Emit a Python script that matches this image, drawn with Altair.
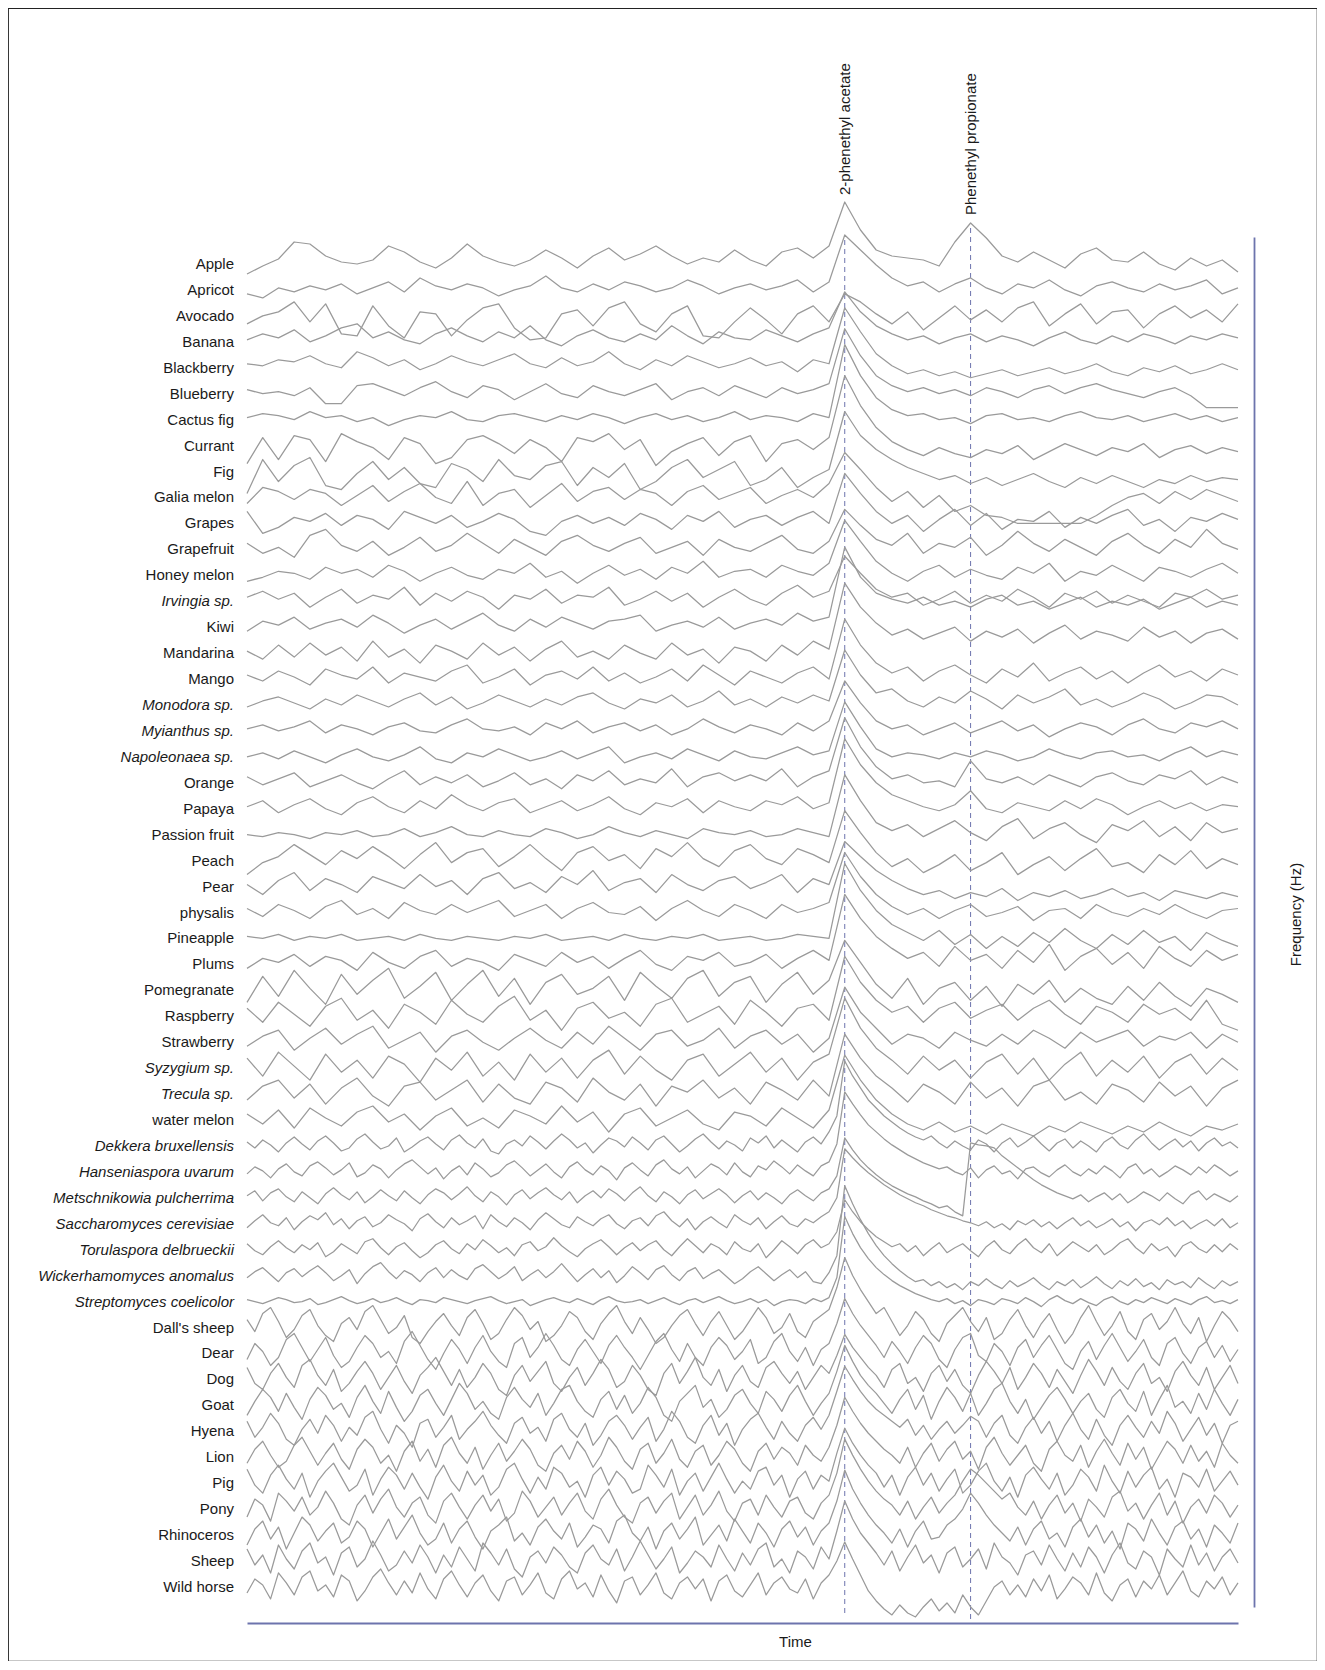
import altair as alt
import pandas as pd

labels = ["Apple", "Apricot", "Avocado", "Banana", "Blackberry", "Blueberry", "Cactus fig",
          "Currant", "Fig", "Galia melon", "Grapes", "Grapefruit", "Honey melon", "Irvingia sp.",
          "Kiwi", "Mandarina", "Mango", "Monodora sp.", "Myianthus sp.", "Napoleonaea sp.",
          "Orange", "Papaya", "Passion fruit", "Peach", "Pear", "physalis", "Pineapple", "Plums",
          "Pomegranate", "Raspberry", "Strawberry", "Syzygium sp.", "Trecula sp.", "water melon",
          "Dekkera bruxellensis", "Hanseniaspora uvarum", "Metschnikowia pulcherrima",
          "Saccharomyces cerevisiae", "Torulaspora delbrueckii", "Wickerhamomyces anomalus",
          "Streptomyces coelicolor", "Dall's sheep", "Dear", "Dog", "Goat", "Hyena", "Lion",
          "Pig", "Pony", "Rhinoceros", "Sheep", "Wild horse"]

italic_labels = ["Irvingia sp.", "Monodora sp.", "Myianthus sp.", "Napoleonaea sp.",
                 "Syzygium sp.", "Trecula sp.", "Dekkera bruxellensis", "Hanseniaspora uvarum",
                 "Metschnikowia pulcherrima", "Saccharomyces cerevisiae", "Torulaspora delbrueckii",
                 "Wickerhamomyces anomalus", "Streptomyces coelicolor"]

# annotated compounds (time in units of the 0..63 time axis)
compounds = ["2-phenethyl acetate", "Phenethyl propionate"]
compound_time = [38, 46]
compound_text_level = [1412, 1392]
compound_line_top = [1367, 1379]
compound_line_bottom = [-6, -12]

# ---- signal traces: offsets from each row's baseline, evenly spaced over the time axis ----
apple = [-10,-2,5,22,20,8,2,0, 4,18,12,2,-4,6,20,8, 2,-2,4,14,6,-4,8,16, 4,10,18,8,0,6,2,14,
         4,-2,12,16,6,18,62,34, 14,8,6,4,-2,22,41,26, 8,2,12,4,-4,10,16,4, 2,12,0,-6,6,-2,4,-8]
apricot = [-4,-8,2,-2,4,0,6,-4, 2,8,-2,12,4,0,6,2, -6,0,4,14,2,-2,6,0, 8,4,-2,2,10,4,-4,2,
           6,0,4,10,-2,8,55,40, 25,12,4,8,-2,6,12,2, -4,6,2,10,0,-6,4,8, 2,-2,6,0,4,10,-4,2]
avocado = [-8,0,4,14,-6,12,-18,-20, 10,-10,-22,4,2,-20,-4,8, 12,-12,-24,-22,2,6,-10,8, 14,-8,-16,2,10,-20,-22,-6,
           8,-4,-18,2,10,-6,22,14, 2,-8,4,-14,-2,10,-4,6, -6,8,14,-10,2,12,-8,4, 6,-12,2,10,-2,6,-6,12]
banana = [2,8,4,12,0,6,14,18, 4,10,2,-2,8,14,6,0, 10,4,16,2,-4,6,12,4, 0,8,2,16,6,-2,10,4,
          2,12,6,0,8,14,50,30, 16,8,2,6,-2,4,8,0, 6,2,-4,4,10,2,-2,6, 0,8,4,-2,6,2,8,4]
blackberry = [4,2,8,6,12,4,0,16, 10,2,8,-2,4,12,6,2, 8,14,4,0,10,2,6,16, 4,-2,8,2,12,6,0,4,
              10,2,6,-4,8,4,60,36, 14,2,-6,-2,-8,-4,-10,-6, -2,-8,-4,0,-6,-2,4,-4, -8,0,-4,2,-6,-2,4,-2]
blueberry = [4,0,2,-2,6,-10,-10,8, 10,4,-2,6,12,2,-4,8, 4,-6,2,10,0,-4,8,2, -2,4,10,-6,2,6,-2,8,
             2,-4,6,0,4,10,65,38, 18,8,2,6,0,4,-2,6, 2,-4,4,8,0,6,10,4, 0,-4,2,6,-2,-14,-14,-14]
cactus_fig = [2,6,4,0,8,2,4,-2, 2,-6,0,4,2,8,0,-2, 4,6,2,-2,4,0,6,2, -4,2,6,0,4,-2,2,8,
              0,4,2,-2,6,2,75,44, 22,10,4,6,0,2,-4,4, 6,0,2,-2,4,8,2,0, 4,-2,2,6,0,4,-2,2]
currant = [-18,8,-14,10,6,-16,12,4, -2,-14,8,2,-18,-12,6,10, 2,-8,6,-2,-16,8,4,12, -4,6,-20,-6,2,8,-10,4,
           10,-16,2,6,-4,8,70,40, 18,4,-4,-10,-2,-8,-12,-4, -8,0,-14,-6,2,-4,-10,-2, -6,2,-12,-4,0,-8,-2,-6]
fig = [-22,12,-10,6,14,-14,-18,-2, 10,-8,4,-12,-16,8,2,-10, 12,-4,-8,6,10,-14,4,-6, 8,-18,-10,4,12,-6,2,10,
       -14,-8,4,-16,-6,2,60,36, 22,12,4,-2,-8,-4,-12,-6, -14,-8,-2,-10,-16,-6,-12,-4, -10,-16,-8,-12,-4,-10,-6,-8]
galia_melon = [-6,10,6,-2,8,4,-8,2, 12,-4,6,14,0,-6,16,-8, 4,8,-10,2,14,-4,6,10, -2,8,4,-8,6,12,-2,4,
               10,-6,2,8,0,14,45,28, 10,-4,6,-10,2,-14,-8,-18, -20,-26,-26,-26,-26,-26,-18,-8, 0,4,-6,6,-2,8,2,-4]
grapes = [12,-10,-4,6,2,10,-2,8, 4,-6,12,6,0,8,-4,2, 10,4,-8,-12,2,8,0,6, -2,10,4,-6,8,2,12,-4,
          4,8,-2,6,12,0,50,30, 12,0,8,-8,4,14,-2,10, -6,4,2,12,-4,6,0,8, 14,-2,4,-8,6,2,10,4]
grapefruit = [6,-4,2,-8,14,20,4,-2, 8,-6,2,12,-2,4,16,6, -4,10,2,-6,8,14,4,-2, 6,12,-4,2,8,-6,10,2,
              -2,6,14,0,-4,8,40,24, 10,4,16,-4,6,2,12,-6, 4,18,6,-2,10,2,-6,8, 16,4,-4,10,2,20,6,0]
honey_melon = [-6,-2,4,2,-4,8,2,6, -2,10,4,-6,2,8,0,-4, 6,2,12,-2,4,-8,2,10, 0,6,-4,8,2,14,-2,4,
               6,-2,10,4,0,12,55,34, 14,2,-6,4,10,-2,6,0, -4,8,2,12,-6,4,0,10, 2,-6,8,4,-2,6,12,2]
irvingia = [4,10,2,8,-6,4,12,-2, 6,2,14,-4,8,0,10,4, -8,6,2,12,-2,6,4,14, -4,2,10,0,8,-6,4,12,
            2,-4,8,16,4,10,45,28, 12,4,8,-4,2,10,-2,6, 0,12,4,-6,8,2,10,-2, 6,0,-6,8,4,12,2,6]
kiwi = [-4,6,2,10,-2,4,8,0, 12,4,-6,2,8,-2,6,14, 2,-4,8,0,10,4,-2,6, 8,12,-4,2,6,0,10,-2,
        4,8,2,14,6,10,80,50, 34,28,24,30,22,26,20,28, 32,22,26,18,24,30,20,26, 22,28,18,24,30,20,26,22]
mandarina = [2,-6,8,-4,10,-2,6,-8, 12,-4,4,-10,8,2,-6,10, -2,6,-8,4,12,-4,2,-6, 8,0,-6,10,-2,4,-10,6,
             2,-8,8,-2,12,4,70,46, 30,18,24,14,20,26,12,22, 16,24,10,20,28,14,22,18, 12,26,16,22,10,20,24,14]
mango = [4,-2,8,2,-6,10,4,0, 12,-4,6,2,-2,8,14,-4, 2,10,-6,4,8,0,12,-2, 6,-4,2,10,-2,14,4,-6,
         8,2,-4,6,12,0,60,34, 16,6,12,-2,8,14,4,-4, 10,2,16,-2,6,12,0,8, -4,6,14,2,8,-2,10,4]
monodora = [-2,4,8,2,-4,6,0,10, 4,-2,6,12,0,8,-4,2, 10,4,-2,6,0,8,12,2, -4,6,2,10,-2,4,14,0,
            6,-2,8,2,10,4,55,30, 12,16,4,-2,8,2,14,6, -4,10,2,8,16,0,6,-2, 4,12,6,-4,2,10,8,0]
myianthus = [2,6,0,4,10,-2,6,2, -4,4,8,0,-2,6,12,2, 0,4,-4,8,2,10,-2,4, 8,0,6,-4,2,12,4,-2,
             6,2,-4,8,0,10,50,28, 10,2,6,-4,2,8,-2,4, 10,0,6,-6,2,8,4,-4, 6,12,2,-2,8,4,10,2]
napoleonaea = [0,4,-2,6,0,-6,2,8, 0,-4,2,10,-2,-6,4,0, 8,2,-4,0,6,-2,4,10, -6,0,4,-2,8,2,-4,6,
               0,-2,4,10,2,6,55,30, 8,0,4,2,-2,4,0,6, 2,-4,0,8,2,-2,4,6, 0,2,-4,4,10,0,6,2]
orange = [6,-2,4,10,-4,2,8,0, -6,4,12,-2,6,0,8,-4, 2,10,-2,4,-6,8,2,12, -2,4,0,14,-4,6,10,2,
          8,2,14,-4,6,12,65,36, 16,4,8,0,2,-4,22,4, 0,6,-2,8,2,-4,6,10, 2,-2,8,4,12,-2,6,0]
papaya = [2,8,-4,4,10,0,-6,6, 12,2,-4,8,0,14,4,-2, 6,10,-4,2,8,-2,4,12, 0,-6,6,2,10,-4,8,2,
          -2,8,4,12,0,6,70,44, 26,14,8,2,-2,4,18,0, -4,6,2,-2,8,0,10,4, -6,2,8,0,6,-2,4,2]
passion_fruit = [0,-2,2,0,-4,2,0,4, -2,0,6,-2,2,8,0,-2, 4,0,-2,6,2,-4,0,8, 2,-2,4,0,-4,6,2,0,
                 4,-2,0,6,2,-2,60,34, 12,4,10,-2,6,14,2,-6, 8,16,-4,6,12,0,-8,10, 4,14,-2,8,-6,12,2,6]
peach = [-14,-2,4,16,6,-4,10,2, 14,4,-8,6,18,-2,8,12, -6,4,16,2,-10,8,14,0, 6,-8,12,4,18,2,-6,10,
         16,2,-4,12,6,-2,50,28, 8,-6,2,-12,-4,6,-10,-2, 8,-14,-4,4,-10,2,12,-6, -2,-12,6,-4,10,-8,2,-4]
pear = [2,-8,6,14,-4,8,2,-6, 10,4,-2,12,0,6,-8,8, 14,-2,4,-6,10,2,16,-4, 4,8,-6,12,2,-4,6,10,
        -2,4,12,-6,8,2,45,30, 16,6,-2,-8,-4,-12,-6,-10, -2,-14,-6,-10,-4,-12,-8,-2, -10,-6,-14,-4,-8,-12,-6,-10]
physalis = [4,-4,8,2,-6,6,12,-2, 4,-6,10,2,-2,8,0,6, 12,-4,2,8,-6,4,10,0, -2,6,-8,4,12,2,-4,8,
            2,-6,8,0,4,10,60,36, 18,6,-2,4,-6,2,8,-4, 0,6,-8,2,4,-6,8,0, -4,4,-2,8,0,-6,2,4]
pineapple = [2,0,4,-2,2,0,4,-2, 0,2,-2,4,0,-2,2,0, -2,2,0,4,-2,0,2,-2, 4,0,-2,2,0,4,-2,0,
             2,-2,0,4,2,0,75,48, 28,14,6,-2,8,-6,4,-10, 2,-8,6,-4,10,-2,-10,4, -6,8,-4,2,-12,6,-2,-8]
plums = [-4,6,2,10,-2,8,4,-6, 12,2,-4,8,14,-2,6,2, -6,10,4,-2,12,2,8,-4, 6,14,0,-6,8,4,12,-2,
         2,10,-4,6,14,4,70,46, 28,16,6,12,-2,18,4,10, -4,14,2,20,-6,8,16,0, 12,-4,18,6,-2,14,4,10]
pomegranate = [-12,14,-6,20,2,-14,16,-4, 10,22,-8,4,18,-10,6,20, -6,12,-14,8,16,-4,2,14, -10,18,4,-8,12,20,-6,8,
               14,-12,6,18,-4,10,50,28, 6,-8,12,-14,2,8,-10,4, -16,6,-4,10,-12,2,-8,-14, 4,-10,8,-6,-16,2,-4,-12]
raspberry = [8,-6,14,2,-10,10,18,-4, 6,-12,12,4,-8,16,2,-6, 10,20,-4,6,-14,8,14,-2, 4,-10,12,18,-6,2,10,-8,
             16,4,-10,8,12,-4,60,34, 16,4,10,-6,8,14,-2,6, 12,-4,8,16,2,-8,10,4, -6,12,2,8,-4,16,-8,-14]
strawberry = [-4,6,12,-8,4,14,-2,8, 16,-6,2,10,-10,6,12,0, -8,4,14,2,-6,10,-2,16, 4,-8,8,12,-4,2,14,-6,
              6,12,-2,8,-10,4,55,30, 14,-2,8,4,-6,10,2,-4, 8,-2,12,4,-6,10,0,6, 12,-4,6,2,10,-6,8,0]
syzygium = [10,-8,16,2,-12,14,-4,8, -10,12,4,-14,10,-2,16,-8, 6,-12,14,-4,10,-10,8,18, -6,12,-2,-12,8,14,-8,4,
            16,-4,10,-12,6,14,70,40, 20,8,-6,12,-2,8,-10,6, 14,-6,10,-12,4,16,-8,8, -4,12,-10,6,14,-6,10,-2]
trecula = [-6,8,14,-4,10,-10,6,16, -2,-12,8,12,-6,4,14,-8, 10,-4,-10,12,6,-8,16,2, -6,10,-12,8,2,14,-4,6,
           -10,12,4,-6,14,-2,60,36, 18,6,-8,10,2,-10,12,-4, 6,-12,8,14,-6,2,-10,10, 4,-8,12,-2,8,-12,6,14]
water_melon = [6,-4,10,-8,12,2,-6,8, 14,-2,6,-10,4,12,-6,2, -8,10,4,-4,14,-2,8,-12, 6,12,-6,2,10,-4,-10,8,
               4,-6,12,2,-8,10,65,40, 20,6,-4,-10,-2,-12,-6,-14, -4,-10,-16,-6,-12,-2,-8,-14, -6,-12,-2,-10,-16,-6,-10,-4]

# yeasts, bacterium and mammals: sampled twice as densely
dekkera = [4,-2,6,1,-6,3,9,2,-4,5, 10,3,-5,-2,7,12,4,-3,0,8, -6,-1,5,9,2,-4,6,11,3,-2,
           7,-5,-8,2,6,0,10,4,-3,5, 12,6,-2,3,-7,1,8,5,-1,9, 3,-4,6,10,2,-6,0,7,12,4,
           -3,5,1,-5,8,3,10,-2,6,0, -6,4,9,2,14,30,85,70,58,46, 38,30,24,18,13,9,6,10,3,-2,
           5,0,-4,6,2,-6,3,8,-1,4, 10,2,-5,3,7,-2,5,0,-6,4, 9,1,-3,6,12,3,-4,2,7,-1, 5,-5,3,8,0,4,-2]
hanseniaspora = [-2,5,1,-6,3,8,0,-4,6,10, 4,-3,2,9,-5,-1,7,3,-6,2, 8,12,5,-2,4,-7,1,6,-3,9,
                 3,-5,-1,7,11,4,-4,2,8,0, -6,5,10,2,-3,6,1,-8,4,9, 2,-4,7,12,3,-2,5,-6,1,8,
                 4,-3,9,0,-5,6,2,11,5,-2, 7,1,-4,6,10,28,80,68,57,47, 40,33,27,22,17,13,9,6,3,5,
                 0,-3,4,-6,2,6,-2,1,-7,3, 5,-1,-5,2,7,0,-4,3,-2,6, 1,-6,4,8,-2,3,-5,0,6,2, -3,5,-1,7,2,-4,1]
metschnikowia = [2,7,-3,5,9,1,-4,6,0,-6, 4,10,3,-2,6,-5,1,8,2,-3, 7,0,-6,3,9,5,-2,4,11,2,
                 -4,6,1,-7,3,8,-1,5,10,3, -2,6,-5,2,7,0,9,4,-3,5, 11,2,-4,6,1,-6,3,8,-1,4,
                 9,3,-5,2,7,-2,5,0,-6,3, 8,2,-3,5,9,22,60,48,38,30, 23,17,12,8,4,1,-3,-6,-10,-8,
                 -14,-18,55,53,52,50,42,36,30,24, 18,13,9,5,2,-1,3,-4,1,5, -2,4,-5,0,6,2,-3,5,-1,-6, 3,7,-2,4,0,-4,2]
saccharomyces = [-4,3,9,1,-2,6,-6,2,8,4, 11,-1,5,-5,3,7,-3,1,9,4, 0,-7,5,10,2,-4,6,-1,3,8,
                 -5,9,2,-3,6,1,-6,4,11,5, -1,-4,7,2,-2,5,9,0,-5,3, 6,-2,8,12,3,-3,5,-6,2,7,
                 1,-4,9,3,-1,6,-5,2,8,0, -3,5,1,7,12,26,75,66,58,51, 45,39,34,29,25,21,18,14,11,8,
                 6,3,1,-2,2,-4,0,-6,3,-1, 4,-3,2,-5,1,6,-2,3,-4,0, 5,-3,2,-7,1,4,-1,6,-2,3, -5,0,4,-2,5,-4,1]
torulaspora = [6,-1,-5,3,9,2,-3,5,0,7, -7,-2,6,1,-4,8,11,2,-5,3, 7,-1,-8,-3,5,9,1,-4,6,0,
               10,4,-3,2,-6,5,8,-1,3,12, 4,-2,-7,1,6,10,3,-5,2,7, -1,5,9,0,-6,3,11,4,-3,6,
               2,-5,8,1,-2,6,-8,0,9,3, -4,5,10,2,6,18,50,38,28,20, 13,8,3,6,-2,4,-6,1,7,-3,
               2,6,-1,-7,3,9,0,-4,5,11, 2,-3,6,-6,1,8,3,-2,5,-5, 0,7,11,2,-4,6,-1,3,-7,4, 8,1,-3,5,-2,6,0]
wickerhamomyces = [-2,4,8,1,-6,3,7,-1,5,10, 3,-5,0,6,-8,2,9,13,4,-3, 5,1,-6,3,8,-2,6,0,-4,7,
                   11,4,-3,2,9,-5,1,6,-2,4, 12,3,-6,1,7,-2,5,-7,0,9, 3,-4,6,10,1,-5,4,8,-3,2,
                   6,-1,-8,-3,4,9,2,-5,1,6, -2,4,-6,-8,3,20,90,72,56,42, 30,20,12,5,-1,-6,-4,-10,-6,-12,
                   -8,-14,-6,-10,-3,-9,-13,-5,-11,-7, -2,-9,-14,-6,-10,-4,-12,-7,-1,-8,
                   -13,-5,-10,-3,-11,-7,-14,-4,-9,-6, -12,-2,-8,-13,-5,-10,-6]
streptomyces = [2,0,-2,1,4,2,-1,0,3,-3, -1,2,5,1,-2,0,3,-1,1,4, 0,-3,2,1,-1,4,2,0,-2,1,
                3,5,1,-2,0,2,-4,-1,2,4, 1,-1,3,0,-3,2,5,1,-1,0, 2,-2,1,4,0,-3,1,3,-1,2,
                5,1,-2,0,3,-1,2,-4,0,2, 1,-2,3,0,4,24,85,68,54,43, 34,27,21,16,12,8,5,2,0,3,
                -2,1,-4,2,0,-3,3,1,-2,4, 0,-5,2,6,1,-2,3,-1,-4,2, 5,0,-3,2,-1,4,1,-2,3,0, -3,2,5,-1,1,-2,2]
dalls_sheep = [8,-4,14,20,6,-10,-2,12,18,2, -8,-14,4,10,-2,16,22,8,-6,0, 12,-10,-16,-4,6,14,2,-8,10,18,
               4,-12,-6,8,20,12,-2,6,-14,-8, 2,16,10,-4,-12,4,14,22,6,-6, 10,-2,-16,-10,2,12,18,4,-8,6,
               16,2,-12,-4,8,20,10,-6,0,14, -4,-10,6,12,18,40,70,52,38,26, 14,20,6,-8,2,16,8,-6,-14,4,
               12,20,6,-4,10,-12,-6,8,18,2, -10,4,14,-2,-16,-6,10,22,6,-8, 2,16,-4,-12,8,14,-2,6,20,4, -6,10,-14,2,16,8,-4]
dear = [-6,10,2,-12,-4,14,20,6,-8,4, 16,-2,-14,-8,6,18,10,-4,2,-10, 12,22,8,-6,-16,0,14,4,-10,6,
        18,2,-8,-14,10,16,-4,6,20,8, -6,-12,4,14,2,-10,8,18,6,-4, -16,-2,12,20,4,-8,10,-4,-12,6,
        16,8,-6,2,14,-10,-4,12,20,2, -8,6,-12,4,10,30,55,40,28,18, 8,-4,12,2,-10,6,18,10,-6,-14,
        4,16,20,-2,-8,10,2,-12,6,14, -4,8,18,4,-10,-16,2,12,-6,8, 20,6,-8,2,14,-4,-12,10,16,0, -10,6,12,-4,8,-8,4]
dog = [12,-4,-10,6,16,2,-8,14,20,4, -6,10,-12,-4,8,18,6,-10,2,14, -2,-14,4,12,22,8,-6,10,-8,2,
       16,6,-10,-16,4,14,-2,8,18,-4, -12,2,12,-6,6,20,10,-8,-2,14, 4,-10,-16,6,16,-4,8,22,2,-6,
       10,-12,4,14,-2,-8,12,18,6,-4, 8,-10,2,14,6,24,45,32,22,12, 4,-8,10,16,-4,2,-12,6,14,-2,
       10,-6,-14,4,18,8,-4,12,-10,2, 16,6,-8,10,-2,-14,4,20,8,-6, 12,-2,-10,6,16,-4,2,-12,8,18, 4,-6,12,-10,2,14,-4]
goat = [-10,4,16,8,-6,12,-2,-14,6,18, 10,-4,2,-12,8,20,4,-8,14,-2, -16,-6,10,16,2,-10,6,22,12,-4,
        4,-8,-14,8,18,6,-2,12,-10,2, 16,20,4,-6,-12,6,14,-4,10,-8, 2,18,8,-10,-16,4,12,20,-2,6,
        -12,-4,10,16,2,-8,14,6,-6,10, 20,4,-10,2,12,34,60,44,30,20, 12,2,-8,6,16,-4,10,-14,4,18,
        8,-6,12,-10,2,16,22,4,-8,6, -14,-2,10,18,6,-8,4,12,-4,-12, 8,16,2,-6,14,-10,6,20,-2,4, -8,12,-4,16,2,-10,6]
hyena = [10,-6,4,18,8,-8,-14,2,12,-2, 16,6,-10,4,-4,14,20,2,-12,6, -2,-16,8,12,-6,4,16,-8,2,10,
         20,6,-4,-12,8,14,-2,4,-10,12, 18,2,-6,8,-14,-4,10,16,6,-8, 4,14,-10,2,20,10,-6,-12,6,16,
         -4,8,-14,2,12,18,4,-8,10,-2, -10,6,14,2,16,40,65,52,40,30, 22,16,10,4,12,-4,6,-8,2,10,
         -2,6,15,10,-6,8,16,-4,-12,4, 14,-2,10,-10,6,18,2,-8,12,-4, -14,6,16,4,-6,10,-2,20,8,-10, 2,14,-4,8,-12,6,10]
lion = [-6,8,16,2,-10,-4,12,20,6,-8, 4,14,-2,-12,8,18,10,-6,2,-14, 6,16,-4,8,-10,12,20,4,-6,10,
        -12,2,14,-4,6,18,8,-8,-14,4, 12,-2,16,6,-10,2,20,10,-4,-12, 8,14,-6,4,18,-2,-10,6,12,-8,
        2,16,8,-6,-14,6,14,-2,10,4, -8,12,2,-4,10,32,60,46,34,24, 16,8,2,-6,10,-10,4,14,-4,8,
        16,-2,6,-12,10,20,4,-8,2,12, -6,-14,8,16,2,-4,12,-10,6,18, 4,-8,14,-2,10,-12,2,16,8,-6, 12,-4,6,-10,14,2,-6]
pig = [14,-2,-10,8,18,4,-6,10,-14,2, 12,20,6,-8,-2,14,-12,4,16,8, -6,10,-4,-16,6,18,2,-8,12,-2,
       8,-12,-4,14,20,4,-10,6,-6,16, 10,-4,2,-14,8,16,-2,12,4,-10, -6,18,8,-4,14,-12,2,10,-8,6,
       20,4,-10,2,-6,12,16,-2,8,-14, 4,12,-6,8,2,30,55,40,28,18, 10,-4,8,-12,6,16,-2,10,-8,4,
       14,-10,-2,12,20,2,-8,6,-14,8, 16,4,-6,10,-12,-2,14,6,-8,18, 2,-10,12,-4,8,16,-6,4,-14,10, 6,-4,14,-8,2,12,-2]
pony = [-8,10,4,-12,16,8,-2,12,-6,2, 18,6,-10,-16,4,14,-4,10,20,2, -8,6,12,-6,-14,8,16,2,-10,4,
        14,-2,10,-12,-4,18,8,-8,2,12, -6,6,16,-2,-10,10,20,4,-8,-14, 6,12,-4,8,16,-10,2,14,-6,4,
        18,-2,-12,6,10,-6,14,2,-8,8, 12,-4,-10,6,14,36,70,54,40,28, 18,10,4,-6,8,-10,2,12,-4,6,
        14,28,40,34,26,18,10,16,2,-6, 8,-10,4,14,-4,6,-12,10,2,-8, 12,18,-2,6,-10,4,16,-6,8,-14, 2,10,-4,14,6,-8,4]
rhinoceros = [-10,6,14,-4,8,-14,2,18,10,-6, 4,12,-8,-2,14,6,-12,2,16,-4, 8,20,2,-10,-4,12,-8,6,14,-2,
              -14,4,10,18,-6,2,-10,8,16,4, -4,12,-12,-2,10,6,-8,14,20,2, -6,8,-14,4,12,-4,6,18,-10,0,
              10,-6,16,4,-8,12,2,-12,6,14, -2,8,-10,4,12,34,65,46,32,20, 10,2,-8,6,-12,4,14,-4,-2,10,
              16,26,42,32,20,10,2,-6,8,-10, 6,14,-4,2,-12,8,16,-2,10,-8, 4,-14,12,6,-6,16,2,-10,8,14, -4,6,-12,10,2,-8,12]
sheep = [12,-4,6,-12,16,2,-8,10,18,-2, 4,-14,8,14,-6,2,20,6,-10,-4, 10,-2,16,4,-12,6,-6,14,2,-10,
         18,8,-4,12,-8,-16,4,10,-2,14, 6,-6,-12,8,16,2,-4,12,-10,4, 20,6,-8,2,14,-12,-2,10,4,-6,
         16,2,-10,8,-4,12,18,-6,2,-12, 10,4,-8,14,2,30,60,42,28,18, 8,-4,10,-10,4,16,-2,6,-12,8,
         14,-6,2,12,-8,18,4,-2,-14,6, 10,-4,16,2,-10,8,-6,14,4,-12, 6,18,-2,-8,10,4,-14,12,2,-6, 16,-4,8,-10,4,12,-2]
wild_horse = [-6,8,2,-12,14,4,-8,10,16,-4, 2,-10,12,6,-14,-4,10,18,4,-8, 6,-6,14,-2,-12,8,16,2,-10,4,
              12,-4,-14,6,10,-8,2,14,-6,-12, 8,16,-2,4,-10,12,-4,-16,6,10, -8,2,14,-6,-12,4,10,-2,8,-14,
              6,12,-4,-10,2,14,-8,4,10,-2, -6,8,-12,4,12,26,45,28,12,-4, -14,-22,-28,-18,-26,-30,-20,-12,-24,-16,
              -26,-8,-20,-28,-14,0,6,-8,2,-10, 8,-4,12,-12,-2,10,4,-8,14,-6, -14,2,8,-10,6,-2,12,-8,4,16, -4,-10,6,-2,10,-8,4]

series = [apple, apricot, avocado, banana, blackberry, blueberry, cactus_fig, currant, fig,
          galia_melon, grapes, grapefruit, honey_melon, irvingia, kiwi, mandarina, mango, monodora,
          myianthus, napoleonaea, orange, papaya, passion_fruit, peach, pear, physalis, pineapple,
          plums, pomegranate, raspberry, strawberry, syzygium, trecula, water_melon, dekkera,
          hanseniaspora, metschnikowia, saccharomyces, torulaspora, wickerhamomyces, streptomyces,
          dalls_sheep, dear, dog, goat, hyena, lion, pig, pony, rhinoceros, sheep, wild_horse]

# ---- layout / style constants ----
T_MAX = 63
ROW_TOP = 1343.0
ROW_STEP = 25.94
FONT = "Liberation Sans"
TRACE_COLOR = "#9a9a9a"
AXIS_COLOR = "#6d74ad"
TEXT_COLOR = "#1a1a1a"

trace_rows = []
label_rows = []
for i, (name, vals) in enumerate(zip(labels, series)):
    base = ROW_TOP - ROW_STEP * i
    label_rows.append({"name": name, "t": 0, "level": base,
                       "italic": name in italic_labels})
    step = T_MAX / (len(vals) - 1)
    for j, v in enumerate(vals):
        trace_rows.append({"name": name, "t": j * step, "level": base + v})

traces_df = pd.DataFrame(trace_rows)
labels_df = pd.DataFrame(label_rows)
comp_df = pd.DataFrame({"name": compounds, "t": compound_time,
                        "level": compound_text_level,
                        "top": compound_line_top, "bottom": compound_line_bottom})


def X():
    return alt.X("t:Q",
                 scale=alt.Scale(domain=[0, T_MAX], range=[239, 1230], nice=False, zero=False),
                 axis=alt.Axis(orient="bottom", offset=-38, ticks=False, labels=False,
                               grid=False, domainColor=AXIS_COLOR, domainWidth=1.8,
                               title="Time", titleFont=FONT, titleFontSize=15,
                               titleFontWeight="normal", titleColor=TEXT_COLOR,
                               titleX=787, titleY=18, titleBaseline="middle"))


def Y(field="level:Q"):
    return alt.Y(field,
                 scale=alt.Scale(domain=[0, 1370], range=[1599, 229], nice=False, zero=False),
                 axis=alt.Axis(orient="right", offset=-63, ticks=False, labels=False,
                               grid=False, domainColor=AXIS_COLOR, domainWidth=1.8,
                               title="Frequency (Hz)", titleFont=FONT, titleFontSize=15,
                               titleFontWeight="normal", titleColor=TEXT_COLOR,
                               titleAngle=270, titleX=41, titleY=906,
                               titleBaseline="middle", titleAlign="center"))


rules = alt.Chart(comp_df).mark_rule(
    color=AXIS_COLOR, strokeWidth=1, strokeDash=[5, 4]
).encode(x=X(), y=Y("top:Q"), y2=alt.Y2("bottom:Q"))

lines = alt.Chart(traces_df).mark_line(
    color=TRACE_COLOR, strokeWidth=1.25, strokeJoin="round"
).encode(x=X(), y=Y(), detail="name:N", order="t:Q")

label_norm = alt.Chart(labels_df).transform_filter("!datum.italic").mark_text(
    align="right", baseline="middle", dx=-13, font=FONT, fontSize=15, color=TEXT_COLOR
).encode(x=X(), y=Y(), text="name:N")

label_it = alt.Chart(labels_df).transform_filter("datum.italic").mark_text(
    align="right", baseline="middle", dx=-13, font=FONT, fontSize=15, color=TEXT_COLOR,
    fontStyle="italic"
).encode(x=X(), y=Y(), text="name:N")

annot = alt.Chart(comp_df).mark_text(
    angle=270, align="left", baseline="middle", font=FONT, fontSize=15, color=TEXT_COLOR
).encode(x=X(), y=Y(), text="name:N")

chart = alt.layer(rules, lines, label_norm, label_it, annot).properties(
    width=1309, height=1653, padding=0, background="white"
).configure_view(
    stroke="#222222", strokeWidth=1.2
)

chart.save("out.html", embed_options={"renderer": "svg", "actions": False})
